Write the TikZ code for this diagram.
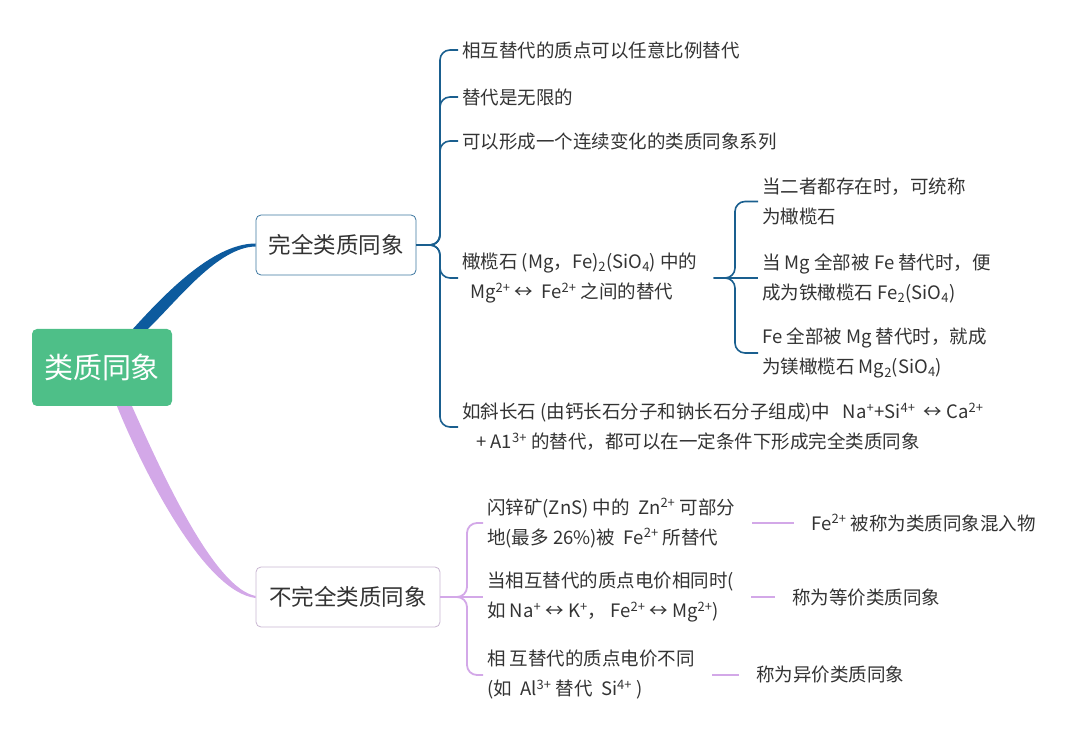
\documentclass[tikz,border=0pt]{standalone}
\usepackage{fontspec}
\setmainfont{Noto Sans CJK SC}
\usepackage{xcolor}
\usetikzlibrary{positioning,calc}

\definecolor{rootgreen}{HTML}{4EBF88}
\definecolor{deepblue}{HTML}{0D5B9E}
\definecolor{linkblue}{HTML}{1A5F8F}
\definecolor{lilac}{HTML}{D3A8E8}
\definecolor{inkgray}{HTML}{333333}
\newcommand{\ionup}[1]{\textsuperscript{#1}}
\newcommand{\iondn}[1]{\textsubscript{#1}}

\begin{document}
\begin{tikzpicture}[x=1pt, y=-1pt,
				rootbox/.style={rectangle, rounded corners=5pt, fill=rootgreen, text=white, minimum width=140pt, minimum height=77pt, font=\fontsize{29}{34}\selectfont},
				mainbox/.style={rectangle, rounded corners=5pt, fill=white, text=inkgray, minimum height=60pt, line width=0.8pt, font=\fontsize{22.5}{27}\selectfont},
				topic/.style={anchor=west, align=left, inner sep=4pt, text=inkgray, font=\fontsize{18.5}{30}\selectfont},
				bline/.style={draw=linkblue, line width=1.6pt, rounded corners=10pt},
				pline/.style={draw=lilac, line width=1.8pt, rounded corners=10pt},
				node distance=52pt
				]
				\useasboundingbox (0,0) rectangle (1080,735);
				
				\node[rootbox] (root) at (102,367.5) {类质同象};
				\node[mainbox, draw=linkblue!85, minimum width=160pt] (full) at (336,245) {完全类质同象};
				\node[mainbox, draw=lilac!60!gray!70, minimum width=184pt] (part) at (348,597) {不完全类质同象};
				
				% main branches
				\fill[deepblue] ($(root.north)+(31,0)$) .. controls (163,296) and (212,243.5) .. ([yshift=1.5pt]full.west)
					-- ([yshift=-1.5pt]full.west) .. controls (218,247) and (178,300) .. ($(root.north)+(46,0)$) -- cycle;
				\fill[lilac] ($(root.south)+(15,0)$) .. controls (145,475) and (205,592) .. ([yshift=-1pt]part.west)
					-- ([yshift=1pt]part.west) .. controls (215,588) and (165,480) .. ($(root.south)+(30,0)$) -- cycle;
				
				% complete isomorphism
				\node[topic] (f1) at (458,50) {相互替代的质点可以任意比例替代};
				\node[topic] (f2) at (458,97) {替代是无限的};
				\node[topic] (f3) at (458,141) {可以形成一个连续变化的类质同象系列};
				\node[topic] (f4) at (458,278) {橄榄石 (Mg，Fe)\iondn{2}(SiO\iondn{4}) 中的\\\hspace*{8pt}Mg\ionup{2+} ↔\ \ Fe\ionup{2+} 之间的替代};
				\node[topic] (f5) at (458,427) {如斜长石 (由钙长石分子和钠长石分子组成)中\ \ \ Na\ionup{+}+Si\ionup{4+}\ \ ↔\ Ca\ionup{2+}\\\hspace*{14pt}+ A1\ionup{3+} 的替代，都可以在一定条件下形成完全类质同象};
				
				\coordinate (fj) at (440,245);
				\foreach \c in {f1,f2,f3,f4,f5}
					\draw[bline] (full.east) -- (fj) -- (fj |- \c.west) -- (\c.west);
				
				\node[topic] (o1) at (758,201.5) {当二者都存在时，可统称\\为橄榄石};
				\node[topic] (o2) at (758,278) {当\ Mg 全部被\ Fe 替代时，便\\成为铁橄榄石\ Fe\iondn{2}(SiO\iondn{4})};
				\node[topic] (o3) at (758,353) {Fe 全部被\ Mg 替代时，就成\\为镁橄榄石 Mg\iondn{2}(SiO\iondn{4})};
				
				\coordinate (oj) at (735,278);
				\draw[bline] (f4.east) ++(12,0) -- (o2.west);
				\foreach \c in {o1,o3}
					\draw[bline] (f4.east) ++(12,0) -- (oj) -- (oj |- \c.west) -- (\c.west);
				
				% incomplete isomorphism
				\node[topic] (z1) at (483,523) {闪锌矿(ZnS) 中的\ \ Zn\ionup{2+} 可部分\\地(最多 26\%)被\ \ Fe\ionup{2+} 所替代};
				\node[topic] (z2) at (483,597) {当相互替代的质点电价相同时(\\如 Na\ionup{+} ↔ K\ionup{+}，\ Fe\ionup{2+} ↔ Mg\ionup{2+})};
				\node[topic] (z3) at (483,675) {相\ 互替代的质点电价不同\\(如\ \ Al\ionup{3+} 替代\ \ Si\ionup{4+} )};
				
				\coordinate (pj) at (467,597);
				\draw[pline] (part.east) -- (z2.west);
				\foreach \c in {z1,z3}
					\draw[pline] (part.east) -- (pj) -- (pj |- \c.west) -- (\c.west);
				
				\node[topic, right=68pt of z1] (n1) {Fe\ionup{2+} 被称为类质同象混入物};
				\node[topic, right=50pt of z2] (n2) {称为等价类质同象};
				\node[topic, right=53pt of z3] (n3) {称为异价类质同象};
				
				\foreach \c/\n in {z1/n1,z2/n2,z3/n3}
					\draw[pline, shorten <=13pt, shorten >=13pt] (\c.east) -- (\n.west);
			\end{tikzpicture}
\end{document}
